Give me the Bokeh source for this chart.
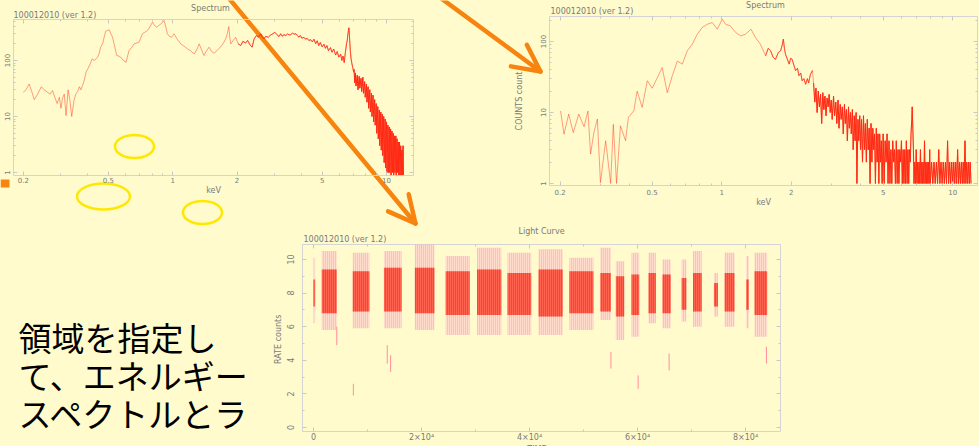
import math
from bokeh.plotting import figure
from bokeh.models import Column, Range1d, FixedTicker, LogAxis, LinearAxis
from bokeh.core.properties import value
from bokeh.embed import file_html
from bokeh.resources import INLINE

BG = "#fffbcc"
ORANGE = "#f7840f"
RED = "#ff2a14"
PINK = "#ff8f9c"
GRAY = "#7a7a7a"
TICK = "#c8c8c8"
# every figure in the column gets the same side borders (the column aligns frames)
BL = 50
BR = 10
W = 979

# ---------------- data: left spectrum (region spectrum) ----------------
tl_soft_e = [0.200, 0.206, 0.213, 0.219, 0.225, 0.232, 0.243, 0.250, 0.260, 0.267,
             0.274, 0.281, 0.288, 0.295, 0.300, 0.305, 0.311, 0.317, 0.324, 0.330,
             0.337, 0.345, 0.352, 0.359, 0.366, 0.372, 0.379, 0.386, 0.393, 0.400,
             0.410, 0.420, 0.430, 0.445, 0.452, 0.460, 0.470, 0.478, 0.486, 0.495,
             0.505, 0.514, 0.523, 0.535, 0.547, 0.559, 0.571, 0.588, 0.605, 0.615,
             0.625, 0.642, 0.660, 0.678, 0.696, 0.708, 0.721, 0.740, 0.762, 0.783,
             0.804, 0.823, 0.842, 0.858, 0.873, 0.892, 0.911, 0.928, 0.944, 0.965,
             0.986, 1.000, 1.014, 1.05, 1.09, 1.13, 1.17, 1.21, 1.26, 1.30,
             1.33, 1.36, 1.40, 1.44, 1.48, 1.52, 1.56, 1.61, 1.67, 1.72,
             1.77, 1.80, 1.83, 1.85, 1.87, 1.92, 1.97]
tl_soft_c = [27, 30, 38, 28, 20, 24, 34, 30, 27, 25,
             29, 22, 17, 22, 14, 21, 25, 10.4, 30, 20,
             10, 19, 25, 28, 34, 30, 36, 45, 62, 70,
             85, 107, 100, 115, 130, 173, 200, 260, 334, 345,
             352, 300, 260, 180, 123, 120, 115, 100, 93, 120,
             151, 170, 198, 205, 212, 250, 300, 320, 343, 400,
             484, 420, 393, 420, 440, 470, 518, 400, 300, 270,
             260, 280, 300, 240, 198, 180, 162, 150, 131, 160,
             198, 160, 123, 150, 173, 145, 135, 150, 173, 200,
             244, 300, 404, 250, 198, 230, 260]
tl_mid_e = [2.02, 2.08, 2.13, 2.19, 2.24, 2.30, 2.35, 2.40, 2.46, 2.52,
            2.58, 2.62, 2.67, 2.72, 2.80, 2.87, 2.94, 3.00, 3.07, 3.14,
            3.20, 3.26, 3.31, 3.38, 3.45, 3.50, 3.56, 3.63, 3.70, 3.77,
            3.83, 3.89, 3.95, 4.02, 4.11, 4.18, 4.25, 4.33, 4.42, 4.50,
            4.58, 4.66, 4.74, 4.82, 4.90, 5.00, 5.10, 5.18, 5.26, 5.35,
            5.47, 5.56, 5.66, 5.78, 5.88, 5.98, 6.10, 6.18, 6.26, 6.34,
            6.42, 6.50, 6.55, 6.60, 6.64, 6.67, 6.70, 6.74, 6.77, 6.82,
            6.89, 6.95, 7.02]
tl_mid_c = [200, 185, 220, 205, 228, 190, 173, 240, 279, 260,
            300, 265, 244, 270, 260, 285, 300, 320, 290, 268,
            300, 270, 290, 279, 300, 285, 290, 307, 295, 300,
            280, 260, 280, 250, 260, 240, 250, 228, 235, 215,
            240, 200, 225, 185, 210, 175, 195, 165, 185, 150,
            170, 140, 160, 125, 145, 115, 130, 100, 120, 92,
            140, 200, 228, 300, 350, 384, 300, 198, 150, 110,
            87, 75, 62]
tl_band_e = [7.05, 7.10, 7.15, 7.20, 7.30, 7.35, 7.45, 7.50, 7.60, 7.65,
             7.75, 7.80, 7.90, 7.95, 8.05, 8.10, 8.20, 8.25, 8.35, 8.40,
             8.50, 8.55, 8.65, 8.70, 8.80, 8.85, 8.95, 9.00, 9.10, 9.15,
             9.25, 9.30, 9.40, 9.45, 9.55, 9.60, 9.70, 9.75, 9.85, 9.90,
             10.00, 10.05, 10.15, 10.20, 10.30, 10.35, 10.45, 10.50, 10.60, 10.65,
             10.75, 10.80, 10.90, 10.95, 11.05, 11.10, 11.20, 11.25, 11.35, 11.40,
             11.50, 11.55, 11.65, 11.70, 11.80, 11.85, 11.95, 12.00]
tl_band_c = [70, 40, 60, 35, 55, 30, 52, 32, 48, 28,
             50, 26, 42, 22, 38, 18, 34, 14, 30, 12,
             26, 10, 24, 8, 20, 7, 17, 5, 15, 4,
             13, 3, 12, 2.5, 11, 2, 10, 1.5, 9, 1.2,
             8, 1, 7, 1, 6.5, 1, 6, 0.9, 5.5, 1,
             5, 0.9, 4.5, 1, 4.5, 0.9, 4, 1, 3.5, 0.9,
             3.5, 0.9, 3, 0.9, 2.5, 0.9, 3, 0.9]

# ---------------- data: right spectrum ----------------
tr_soft_e = [0.201, 0.208, 0.218, 0.228, 0.241, 0.254, 0.264, 0.271, 0.280, 0.290,
             0.299, 0.315, 0.331, 0.340, 0.351, 0.365, 0.384, 0.395, 0.417, 0.431,
             0.453, 0.477, 0.501, 0.527, 0.553, 0.582, 0.612, 0.643, 0.676, 0.710,
             0.747, 0.785, 0.825, 0.867, 0.911, 0.958, 1.007, 1.040, 1.090, 1.150,
             1.210, 1.270, 1.340, 1.400, 1.470]
tr_soft_c = [10.5, 4.95, 9.5, 5.2, 9.5, 6.3, 10.5, 2.6, 5.2, 8.1,
             1.03, 4.0, 1.0, 6.8, 1.0, 6.5, 4.0, 8.5, 10.6, 20,
             11.8, 28, 22, 31, 43, 19, 33, 53, 48, 74,
             92, 127, 158, 175, 185, 149, 206, 175, 166, 134,
             120, 127, 149, 114, 92]
tr_mid_e = [1.55, 1.59, 1.63, 1.67, 1.71, 1.76, 1.80, 1.83, 1.85, 1.87,
            1.89, 1.93, 1.96, 1.99, 2.02, 2.06, 2.09, 2.13, 2.16, 2.20,
            2.23, 2.27, 2.31, 2.35, 2.38, 2.42, 2.47]
tr_mid_c = [63, 80, 74, 60, 56, 70, 74, 90, 108, 80,
            66, 55, 48, 58, 56, 45, 39, 42, 33, 36,
            28, 30, 25, 30, 26, 34, 39]
tr_band_e = [2.50, 2.53, 2.56, 2.59, 2.62, 2.65, 2.68, 2.71, 2.74, 2.77,
             2.80, 2.83, 2.86, 2.89, 2.92, 2.95, 2.98, 3.01,
             3.05, 3.08, 3.12, 3.15, 3.19, 3.22, 3.26, 3.29, 3.33, 3.36,
             3.40, 3.43, 3.47, 3.50, 3.54, 3.57, 3.61, 3.64, 3.68, 3.71,
             3.75, 3.78, 3.82, 3.85, 3.89, 3.92, 3.96, 3.99,
             4.03, 4.07, 4.11, 4.15, 4.19, 4.23, 4.27, 4.31, 4.35, 4.39,
             4.43, 4.47, 4.51, 4.55, 4.59, 4.63, 4.67, 4.71, 4.75, 4.79,
             4.83, 4.87, 4.91, 4.95,
             5.00, 5.05, 5.10, 5.15, 5.20, 5.25, 5.30, 5.35, 5.40, 5.45,
             5.50, 5.55, 5.60, 5.65, 5.70, 5.75, 5.80, 5.85, 5.90, 5.95,
             6.00, 6.05, 6.10, 6.15, 6.20, 6.25, 6.30, 6.35, 6.40, 6.45,
             6.50, 6.55, 6.60, 6.65, 6.68, 6.72, 6.76, 6.80,
             6.85, 6.90, 6.95, 7.00, 7.05, 7.10, 7.15, 7.20, 7.25, 7.30,
             7.35, 7.40, 7.45, 7.50, 7.55, 7.60, 7.65, 7.70, 7.75, 7.80,
             7.85, 7.90, 7.95, 8.00,
             8.1, 8.2, 8.3, 8.4, 8.5, 8.6, 8.7, 8.8, 8.9, 9.0,
             9.1, 9.2, 9.3, 9.4, 9.5, 9.6, 9.7, 9.8, 9.9, 10.0,
             10.1, 10.2, 10.3, 10.4, 10.5, 10.6, 10.7, 10.8, 10.9, 11.0,
             11.1, 11.2, 11.3, 11.4, 11.5, 11.6, 11.7, 11.8, 11.9, 12.0]
tr_band_c = [26, 14, 22, 10, 20, 12, 18, 7, 19, 11,
             17, 9, 16, 12, 18, 10, 15, 8,
             17, 9, 14, 7, 15, 6, 13, 8, 12, 5,
             13, 7, 11, 4, 12, 6, 10, 5, 11, 3,
             9, 4, 10, 1, 8, 4, 9, 3,
             8, 2, 9, 3, 7, 2, 8, 3, 6, 1,
             7, 2, 6, 3, 5, 1, 6, 2, 5, 1,
             5, 2, 4, 1,
             5, 1, 4, 2, 5, 1, 4, 1, 3, 1,
             4, 2, 3, 1, 4, 1, 3, 1, 3, 2,
             4, 1, 3, 1, 3, 1, 4, 1, 3, 1,
             3, 2, 5, 8, 12, 6, 3, 1,
             2, 1, 3, 1, 2, 1, 2, 1, 3, 1,
             2, 1, 2, 1, 4, 1, 2, 1, 2, 1,
             2, 1, 3, 1,
             2, 1, 2, 1, 2, 1, 3, 1, 2, 1,
             2, 1, 2, 1, 4, 1, 2, 1, 2, 1,
             2, 1, 2, 1, 3, 1, 2, 1, 2, 1,
             2, 1, 4, 1, 2, 1, 2, 1, 2, 1]

# ---------------- data: light curve (per observation interval) ----------------
lc_start = [0, 1540, 7260, 13050, 18770, 24490, 30280, 35940, 41660, 47390, 53110,
            56000, 58890, 62030, 64620, 68190, 70280, 74160, 76130, 80130, 81660]
lc_end = [300, 4310, 10340, 16310, 22400, 28920, 34770, 40310, 46160, 51820, 55080,
          57540, 60310, 63390, 66160, 69050, 71880, 74890, 77970, 80620, 84000]
lc_max = [10.1, 10.5, 10.4, 10.5, 10.9, 10.2, 10.7, 10.4, 10.6, 10.1, 10.7,
          9.9, 10.4, 10.4, 10.0, 10.0, 10.5, 9.2, 10.4, 10.2, 10.4]
lc_min = [6.2, 5.8, 5.9, 5.9, 5.8, 5.5, 5.5, 5.5, 5.5, 5.8, 6.4,
          5.2, 5.4, 6.2, 5.9, 6.3, 6.0, 6.6, 6.0, 5.9, 5.4]
lc_hi = [8.8, 9.4, 9.3, 9.5, 9.5, 9.3, 9.4, 9.2, 9.4, 9.3, 9.2,
         9.0, 9.1, 9.2, 9.1, 8.9, 9.2, 8.6, 9.2, 8.8, 9.3]
lc_lo = [7.2, 6.8, 6.9, 6.9, 6.8, 6.7, 6.7, 6.7, 6.6, 6.8, 6.9,
         6.6, 6.7, 6.8, 6.8, 7.0, 6.9, 7.2, 6.9, 7.0, 6.7]
out_t = [4310, 7380, 13660, 14280, 55080, 60120, 65850, 83880]
out_lo = [4.9, 1.9, 3.8, 3.3, 3.5, 2.3, 3.4, 3.8]
out_hi = [6.0, 2.6, 4.9, 4.3, 4.5, 3.1, 4.4, 4.8]

# ---------------- tick labels / texts ----------------
e_ticks = [0.2, 0.5, 1, 2, 5, 10]
e_labels = ["0.2", "0.5", "1", "2", "5", "10"]
e_minor = [0.3, 0.4, 0.6, 0.7, 0.8, 0.9, 3, 4, 6, 7, 8, 9]
c_ticks = [1, 10, 100]
c_labels = ["1", "10", "100"]
c_minor = [2, 3, 4, 5, 6, 7, 8, 9, 20, 30, 40, 50, 60, 70, 80, 90, 200, 300, 400, 500]
t_ticks = [0, 20000, 40000, 60000, 80000]
t_labels = ["0", "2×10⁴", "4×10⁴", "6×10⁴", "8×10⁴"]
t_minor = [10000, 30000, 50000, 70000]
r_ticks = [0, 2, 4, 6, 8, 10]
r_labels = ["0", "2", "4", "6", "8", "10"]
r_minor = [1, 3, 5, 7, 9]
obs_label = "100012010 (ver 1.2)"
jp_lines = ["領域を指定し", "て、エネルギー", "スペクトルとラ"]


def place(frame_left, top):
    return {"position": "absolute", "left": f"{frame_left - BL}px", "top": f"{top}px"}


def style_axis(ax, size="7px", standoff=2, vertical=False):
    ax.axis_line_color = None
    ax.major_tick_in = 4
    ax.major_tick_out = 0
    ax.minor_tick_in = 2
    ax.minor_tick_out = 0
    ax.major_tick_line_color = TICK
    ax.minor_tick_line_color = TICK
    ax.major_label_text_font = "DejaVu Sans"
    ax.major_label_text_font_size = size
    ax.major_label_text_color = GRAY
    ax.major_label_standoff = standoff
    ax.axis_label_text_font = "DejaVu Sans"
    ax.axis_label_text_font_size = "8px"
    ax.axis_label_text_font_style = "normal"
    ax.axis_label_text_color = GRAY
    if vertical:
        ax.major_label_orientation = "vertical"


def mirror(p, kind, ticks, minor, side):
    ax = kind(ticker=FixedTicker(ticks=ticks, minor_ticks=minor))
    style_axis(ax, size="0px", standoff=0)
    ax.major_label_text_alpha = 0
    p.add_layout(ax, side)


def base_plot(frame_w, h, xr, yr, xt, yt, top_b, bottom_b, frame_left, top):
    p = figure(width=BL + frame_w + BR, height=h, x_axis_type=xt, y_axis_type=yt,
               x_range=xr, y_range=yr, toolbar_location=None, output_backend="svg",
               min_border_left=BL, min_border_top=top_b,
               min_border_right=BR, min_border_bottom=bottom_b,
               background_fill_alpha=0, border_fill_alpha=0,
               outline_line_color="#d4d4d4", styles=place(frame_left, top))
    p.grid.visible = False
    return p


def spectrum(frame_left, top, frame_w, h, xr, yr, top_b, bottom_b, ylabel, ystand, lstand, xstand):
    p = base_plot(frame_w, h, xr, yr, "log", "log", top_b, bottom_b, frame_left, top)
    p.xaxis.ticker = FixedTicker(ticks=e_ticks, minor_ticks=e_minor)
    p.xaxis.major_label_overrides = dict(zip(e_ticks, e_labels))
    p.yaxis.ticker = FixedTicker(ticks=c_ticks, minor_ticks=c_minor)
    p.yaxis.major_label_overrides = dict(zip(c_ticks, c_labels))
    for ax in p.xaxis:
        style_axis(ax, size="7px", standoff=xstand)
        ax.axis_label = "keV"
        ax.axis_label_standoff = 0
    for ax in p.yaxis:
        style_axis(ax, size="7px", standoff=ystand, vertical=True)
        if ylabel:
            ax.axis_label = ylabel
            ax.axis_label_standoff = lstand
    mirror(p, LogAxis, c_ticks, c_minor, "right")
    mirror(p, LogAxis, e_ticks, e_minor, "above")
    return p


# ---------------- background layer (slide, annotations, arrows) ----------------
# the figure may be no wider than the column, so its frame covers 0 .. W-BL-BR px
bg = figure(width=W, height=446, x_range=Range1d(0, W - BL - BR), y_range=Range1d(446, 0),
            toolbar_location=None, output_backend="svg",
            min_border_left=BL, min_border_right=BR, min_border_top=0, min_border_bottom=0,
            x_axis_location=None, y_axis_location=None, outline_line_color=None,
            background_fill_color=BG, border_fill_color=BG, styles=place(0, 0))
bg.grid.visible = False
bg.text(x=[18, 18, 18], y=[336, 374, 412], text=jp_lines,
        text_font=value("Noto Sans CJK JP"), text_font_size="33px",
        text_baseline="middle", text_align="left", text_color="black")
bg.text(x=[210, 765, 541], y=[7.5, 4.5, 231], text=["Spectrum", "Spectrum", "Light Curve"],
        text_font=value("DejaVu Sans"), text_font_size="8px", text_color=GRAY,
        text_align="center", text_baseline="middle")
bg.text(x=[13, 550, 303], y=[14.5, 10.5, 238.5], text=[obs_label] * 3,
        text_font=value("DejaVu Sans"), text_font_size="8px", text_color=GRAY,
        text_align="left", text_baseline="middle")
bg.ellipse(x=[134, 103, 202], y=[146, 196, 212], width=[39, 53, 39], height=[23, 26, 23],
           fill_alpha=0, line_color="#ffe800", line_width=2.5)
bg.quad(left=[0], right=[9], top=[179], bottom=[187], fill_color=ORANGE, line_color=None)

# orange arrows (slide decoration): shaft + open head drawn as polylines
arrow_defs = [(222, -10, 415, 223), (430, -10, 540, 71)]
head_len, head_ang = 30, math.radians(26.5)
shaft_x, shaft_y, head_x, head_y = [], [], [], []
for xs, ys, xe, ye in arrow_defs:
    ang = math.atan2(ye - ys, xe - xs)
    shaft_x.append([xs, xe])
    shaft_y.append([ys, ye])
    a1, a2 = ang + math.pi - head_ang, ang + math.pi + head_ang
    head_x.append([xe + head_len * math.cos(a1), xe, xe + head_len * math.cos(a2)])
    head_y.append([ye + head_len * math.sin(a1), ye, ye + head_len * math.sin(a2)])
bg.multi_line(shaft_x, shaft_y, line_color=ORANGE, line_width=4.5, line_cap="round")
bg.multi_line(head_x, head_y, line_color=ORANGE, line_width=4.5, line_cap="round",
              line_join="round")

# ---------------- left spectrum ----------------
tl = spectrum(13, 0, 400, 200, Range1d(0.180, 13.37), Range1d(0.883, 540),
              19, 25, None, 3, 0, 1)
tl.line(tl_soft_e + tl_mid_e + tl_band_e, tl_soft_c + tl_mid_c + tl_band_c,
        line_color=RED, line_alpha=0.45, line_width=1)
tl.line(tl_mid_e, tl_mid_c, line_color=RED, line_alpha=0.75, line_width=1)
tl.line(tl_band_e, tl_band_c, line_color=RED, line_alpha=1, line_width=1)

# ---------------- right spectrum ----------------
tr = spectrum(549, 0, 428, 210, Range1d(0.180, 12.8), Range1d(0.937, 225),
              16, 25, "COUNTS count", 3, 14, 3)
tr.line(tr_soft_e + tr_mid_e + tr_band_e, tr_soft_c + tr_mid_c + tr_band_c,
        line_color=RED, line_alpha=0.45, line_width=1)
tr.line(tr_mid_e, tr_mid_c, line_color=RED, line_alpha=0.7, line_width=1)
tr.line(tr_band_e, tr_band_c, line_color=RED, line_alpha=1, line_width=1)

# ---------------- light curve ----------------
lc = base_plot(478, 219, Range1d(-2037, 86480), Range1d(-0.24, 10.89), "linear", "linear",
               4, 28, 302, 240)
lc.xaxis.ticker = FixedTicker(ticks=t_ticks, minor_ticks=t_minor)
lc.xaxis.major_label_overrides = dict(zip(t_ticks, t_labels))
lc.yaxis.ticker = FixedTicker(ticks=r_ticks, minor_ticks=r_minor)
lc.yaxis.major_label_overrides = dict(zip(r_ticks, r_labels))
for ax in lc.xaxis:
    style_axis(ax, size="8px", standoff=1)
    ax.axis_label = "TIME  s"
    ax.axis_label_standoff = 0
for ax in lc.yaxis:
    style_axis(ax, size="8px", standoff=8, vertical=True)
    ax.axis_label = "RATE  counts"
    ax.axis_label_standoff = 2
mirror(lc, LinearAxis, r_ticks, r_minor, "right")
mirror(lc, LinearAxis, t_ticks, t_minor, "above")
lc.quad(left=lc_start, right=lc_end, bottom=lc_min, top=lc_max,
        fill_color="#ffc2ca", fill_alpha=0.55, line_color=None,
        hatch_pattern="vertical_line", hatch_color="#ff6b78", hatch_alpha=0.5,
        hatch_scale=2, hatch_weight=1)
lc.quad(left=lc_start, right=lc_end, bottom=lc_lo, top=lc_hi,
        fill_color="#ff3a26", fill_alpha=0.75, line_color=None,
        hatch_pattern="vertical_line", hatch_color="#ff1e0e", hatch_alpha=0.8,
        hatch_scale=2, hatch_weight=1)
lc.segment(x0=out_t, y0=out_lo, x1=out_t, y1=out_hi, line_color=PINK, line_width=1)

root = Column(children=[bg, tl, tr, lc], width=W, height=446, sizing_mode="fixed",
              styles={"position": "relative", "overflow": "hidden", "background-color": BG})

open("out.html", "w").write(file_html(root, INLINE))
